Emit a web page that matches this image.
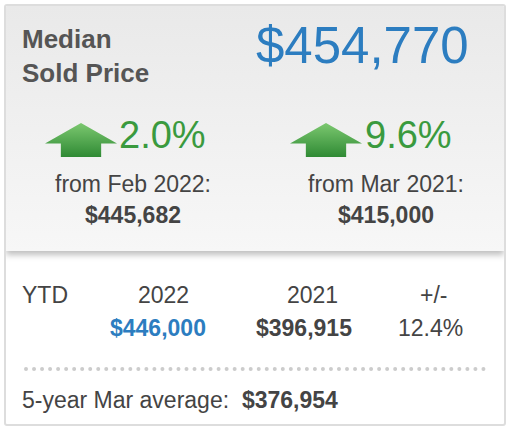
<!DOCTYPE html>
<html><head><meta charset="utf-8">
<script src="https://cdn.jsdelivr.net/npm/chart.js@4"></script>
<style>
body{margin:0;width:510px;height:430px;font-family:"Liberation Sans",Arial,sans-serif;color:#444;background:#fff;}
.card{position:absolute;left:4px;top:4px;width:498px;height:418px;border:2px solid #ddd;border-radius:3px;overflow:hidden;}
.top{position:absolute;left:0;top:0;width:498px;height:245px;background:linear-gradient(#e9e9e9,#f7f7f7);box-shadow:0 4px 6px rgba(0,0,0,.25);}
.t{position:absolute;white-space:nowrap;}
.arrow{position:absolute;width:72px;height:34px;background:linear-gradient(#7cc870,#2f8a34);clip-path:polygon(22% 100%,22% 60%,0 60%,50% 0,100% 60%,78% 60%,78% 100%);}
.dots{position:absolute;left:18px;top:361px;width:462px;border-top:4px dotted #ccc;}
</style></head><body>
<div class="card">
<div class="top"></div>
<div id="root"></div>
<div class="dots"></div>
</div>
<script>
const headline = ['Median', 'Sold Price'];
const price = '$454,770';
const changes = ['2.0%', '9.6%'];
const periods = ['from Feb 2022:', 'from Mar 2021:'];
const priorValues = ['$445,682', '$415,000'];
const ytdHeaders = ['YTD', '2022', '2021', '+/-'];
const ytdValues = ['$446,000', '$396,915', '12.4%'];
const avgLabel = '5-year Mar average:';
const avgValue = '$376,954';

const root = document.getElementById('root');
function add(html, x, y, css) {
    const d = document.createElement('div');
    d.className = 't';
    d.innerHTML = html;
    d.style.left = x + 'px'; d.style.top = y + 'px';
    Object.assign(d.style, css || {});
    root.appendChild(d);
    return d;
}
add(headline.join('<br>'), 16, 16, {fontSize:'26px', fontWeight:'bold', lineHeight:'34px', color:'#555'});
add(price, 250, 10, {fontSize:'51px', color:'#2c7dc0'});
const blocks = [{ax: 39, tx: 113, cx: 127}, {ax: 284, tx: 359, cx: 380}];
blocks.forEach((b, i) => {
    const a = document.createElement('div'); a.className = 'arrow';
    a.style.left = b.ax + 'px'; a.style.top = '117px'; root.appendChild(a);
    add(changes[i], b.tx, 108, {fontSize:'38px', color:'#3a9a3e'});
    add(periods[i] + '<br><b>' + priorValues[i] + '</b>', b.cx - 110, 163, {fontSize:'23px', lineHeight:'31px', textAlign:'center', width:'220px', color:'#444'});
});
const hx = [16, 132, 281, 414];
ytdHeaders.forEach((h, i) => add(h, hx[i], 276, {fontSize:'23px'}));
add(ytdValues[0], 104, 309, {fontSize:'23px', fontWeight:'bold', color:'#2c7dc0'});
add(ytdValues[1], 250, 309, {fontSize:'23px', fontWeight:'bold'});
add(ytdValues[2], 392, 309, {fontSize:'23px'});
add(avgLabel + '&nbsp; <b>' + avgValue + '</b>', 16, 381, {fontSize:'23px'});
</script>
</body></html>
